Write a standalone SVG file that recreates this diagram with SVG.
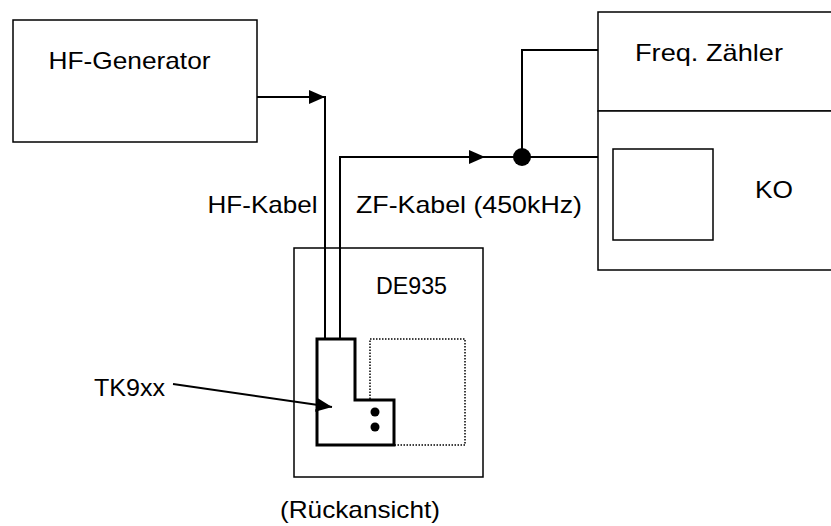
<svg xmlns="http://www.w3.org/2000/svg" width="831" height="526" viewBox="0 0 831 526">
  <defs>
    <style>
      .box { fill: #fff; stroke: #000; stroke-width: 1.5; }
      .wire { fill: none; stroke: #000; stroke-width: 2; }
      .part { fill: #fff; stroke: #000; stroke-width: 3; stroke-linejoin: miter; }
      .dotted { fill: none; stroke: #000; stroke-width: 1.5; stroke-dasharray: 1.5 1.5; }
      .label { font-family: "Liberation Sans", Arial, sans-serif; font-size: 24px; fill: #000; }
    </style>
    <marker id="arrow" viewBox="0 0 16 14" refX="16" refY="7" markerWidth="16" markerHeight="14" markerUnits="userSpaceOnUse" orient="auto">
      <path d="M0,0 L16,7 L0,14 z" fill="#000"/>
    </marker>
  </defs>

  <rect width="831" height="526" fill="#fff"/>

  <!-- signal generator -->
  <g id="hf-generator">
    <rect class="box" x="13" y="20" width="244" height="122"/>
    <text class="label" x="48.5" y="69" textLength="162" lengthAdjust="spacingAndGlyphs">HF-Generator</text>
  </g>

  <!-- counter and oscilloscope unit -->
  <g id="freq-zaehler">
    <rect class="box" x="598" y="12" width="240" height="99"/>
    <text class="label" x="635" y="61" textLength="148" lengthAdjust="spacingAndGlyphs">Freq. Zähler</text>
  </g>
  <g id="ko">
    <rect class="box" x="598" y="111" width="240" height="159"/>
    <rect class="box" x="613" y="149" width="100" height="91"/>
    <text class="label" x="755" y="198" textLength="38" lengthAdjust="spacingAndGlyphs">KO</text>
  </g>

  <!-- device under test, rear view -->
  <g id="de935">
    <rect class="box" x="294" y="248" width="189" height="229"/>
    <text class="label" x="376" y="294" textLength="71" lengthAdjust="spacingAndGlyphs">DE935</text>
    <rect class="dotted" x="370" y="339" width="95" height="106"/>
  </g>

  <g id="tk9xx">
    <path class="part" d="M317,339 H355 V400 H394 V445 H317 Z"/>
    <circle cx="375" cy="412" r="4.5" fill="#000"/>
    <circle cx="375" cy="427" r="4.5" fill="#000"/>
  </g>

  <!-- cables -->
  <g id="connectors">
    <path class="wire" d="M257,97 H325" marker-end="url(#arrow)"/>
    <path class="wire" d="M325,96 V339"/>
    <path class="wire" d="M340,339 V157 H485" marker-end="url(#arrow)"/>
    <path class="wire" d="M484,157 H598"/>
    <path class="wire" d="M522,157 V50 H598"/>
    <circle cx="522" cy="157" r="9" fill="#000"/>
    <path class="wire" d="M173,384 L332,407" marker-end="url(#arrow)"/>
  </g>

  <!-- cable and part labels -->
  <g id="labels">
    <text class="label" x="207.5" y="213" textLength="110" lengthAdjust="spacingAndGlyphs">HF-Kabel</text>
    <text class="label" x="356" y="213" textLength="226" lengthAdjust="spacingAndGlyphs">ZF-Kabel (450kHz)</text>
    <text class="label" x="94" y="396" textLength="71" lengthAdjust="spacingAndGlyphs">TK9xx</text>
    <text class="label" x="280" y="518" textLength="160" lengthAdjust="spacingAndGlyphs">(Rückansicht)</text>
  </g>
</svg>
